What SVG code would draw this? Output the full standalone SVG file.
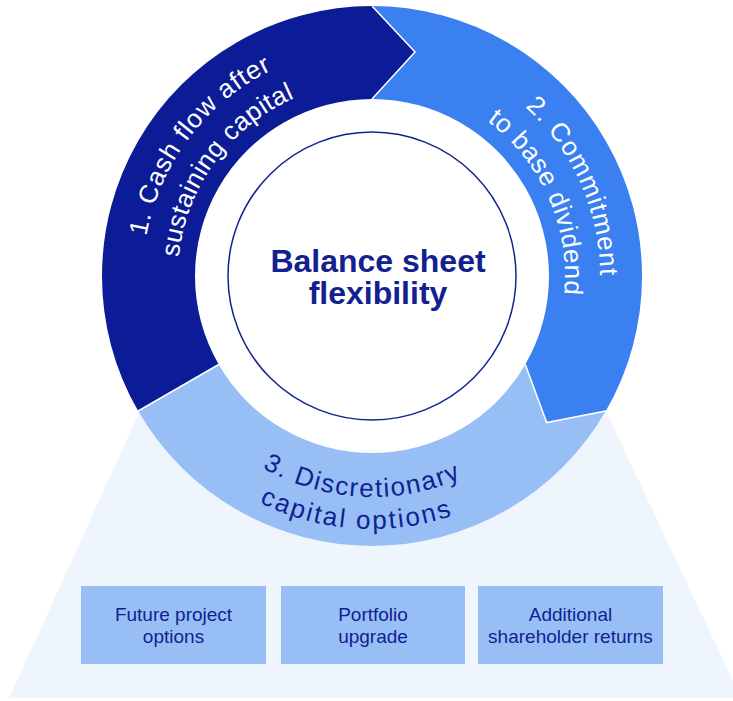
<svg xmlns="http://www.w3.org/2000/svg" width="733" height="701" viewBox="0 0 733 701">
<style>
.seg1{fill:#0b1c96}
.seg2{fill:#3a80f0}
.seg3{fill:#97bff6}
.sep{fill:none;stroke:#ffffff;stroke-width:1.5;stroke-linejoin:miter}
.rt{font-family:"Liberation Sans",Arial,sans-serif;font-size:26px}
.w{fill:#ffffff}
.n{fill:#112290}
.ct{font-family:"Liberation Sans",Arial,sans-serif;font-size:32px;font-weight:bold;fill:#112290;text-anchor:middle}
.box{fill:#97bff6}
.bt{font-family:"Liberation Sans",Arial,sans-serif;font-size:19px;fill:#112290;text-anchor:middle}
</style>
<defs>
<path id="p1a" d="M161.2,365.5 A229,229 0 0 1 399.9,48.7"/>
<path id="p1b" d="M194.8,354.9 A194,194 0 0 1 392.3,83.1"/>
<path id="p2a" d="M395.8,49.3 A228,228 0 0 1 556.5,410.0"/>
<path id="p2b" d="M392.2,84.1 A193,193 0 0 1 528.1,389.4"/>
<path id="p3a" d="M175.1,376.3 A221,221 0 0 0 557.3,396.4"/>
<path id="p3b" d="M144.6,386.9 A253,253 0 0 0 581.7,417.5"/>
</defs>
<rect width="733" height="701" fill="#ffffff"/>
<g id="base">
<polygon points="140,411 606,411 741,698 9,698" fill="#eff5fd"/>
<circle cx="372" cy="276" r="177" fill="#ffffff"/>
</g>
<g id="step1">
<path class="seg1" d="M138.17,411 A270,270 0 0 1 372,6 L415,52 L372,99 A177,177 0 0 0 218.71,364.5 Z"/>
<text class="rt w"><textPath href="#p1a" startOffset="50%" text-anchor="middle" textLength="216" lengthAdjust="spacing">1. Cash flow after</textPath></text>
<text class="rt w"><textPath href="#p1b" startOffset="50%" text-anchor="middle" textLength="206" lengthAdjust="spacing">sustaining capital</textPath></text>
</g>
<g id="step2">
<path class="seg2" d="M372,6 A270,270 0 0 1 605.83,411 L546.65,422.55 L525.29,364.5 A177,177 0 0 0 372,99 L415,52 Z"/>
<text class="rt w"><textPath href="#p2a" startOffset="50%" text-anchor="middle" textLength="190" lengthAdjust="spacing">2. Commitment</textPath></text>
<text class="rt w"><textPath href="#p2b" startOffset="50%" text-anchor="middle" textLength="198" lengthAdjust="spacing">to base dividend</textPath></text>
</g>
<g id="step3">
<path class="seg3" d="M605.83,411 A270,270 0 0 1 138.17,411 L218.71,364.5 A177,177 0 0 0 525.29,364.5 L546.65,422.55 Z"/>
<text class="rt n"><textPath href="#p3a" startOffset="50%" text-anchor="middle" textLength="206" lengthAdjust="spacing">3. Discretionary</textPath></text>
<text class="rt n"><textPath href="#p3b" startOffset="50%" text-anchor="middle" textLength="198" lengthAdjust="spacing">capital options</textPath></text>
</g>
<g id="connectors">
<polyline class="sep" points="372,6 415,52 372,99"/>
<polyline class="sep" points="605.83,411 546.65,422.55 525.29,364.5"/>
<line class="sep" x1="138.17" y1="411" x2="218.71" y2="364.5"/>
</g>
<g id="center">
<circle cx="372" cy="276" r="144" fill="#ffffff" stroke="#112290" stroke-width="1.5"/>
<text class="ct" x="378" y="272">Balance sheet</text>
<text class="ct" x="378" y="304">flexibility</text>
</g>
<g id="box1">
<rect class="box" x="81" y="586" width="185" height="78"/>
<text class="bt" x="173.5" y="621">Future project</text>
<text class="bt" x="173.5" y="643">options</text>
</g>
<g id="box2">
<rect class="box" x="281" y="586" width="184" height="78"/>
<text class="bt" x="373" y="621">Portfolio</text>
<text class="bt" x="373" y="643">upgrade</text>
</g>
<g id="box3">
<rect class="box" x="478" y="586" width="185" height="78"/>
<text class="bt" x="570.5" y="621">Additional</text>
<text class="bt" x="570.5" y="643">shareholder returns</text>
</g>
</svg>
